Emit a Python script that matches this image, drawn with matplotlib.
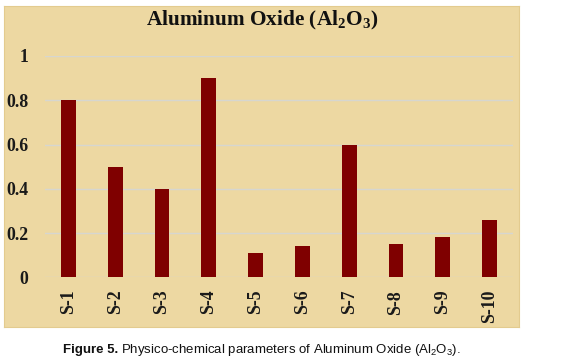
import matplotlib.pyplot as plt

# datos
muestras = ["S-1", "S-2", "S-3", "S-4", "S-5", "S-6", "S-7", "S-8", "S-9", "S-10"]
al2o3 = [0.80, 0.50, 0.40, 0.90, 0.11, 0.14, 0.60, 0.15, 0.18, 0.26]
yticks = [0, 0.2, 0.4, 0.6, 0.8, 1]
yticklabels = ["0", "0.2", "0.4", "0.6", "0.8", "1"]

fondo = "#EDD8A2"
barra = "#7F0000"

fig = plt.figure(figsize=(5.64, 3.64), dpi=100)
fig.patch.set_facecolor("white")

# panel pergamino detras del grafico
fondo_ax = fig.add_axes([4 / 564, 1 - 327 / 364, 515 / 564, 321 / 364], zorder=0)
fondo_ax.set_facecolor(fondo)
fondo_ax.set_xticks([])
fondo_ax.set_yticks([])
for s in fondo_ax.spines.values():
    s.set_color("#E3CB8F")
    s.set_linewidth(0.8)

ax = fig.add_axes([45 / 564, 1 - 277.3 / 364, 468 / 564, 221.3 / 364], zorder=1)
ax.set_facecolor("none")

x = range(len(muestras))
ax.bar(x, al2o3, width=0.32, color=barra, zorder=3)

ax.set_xlim(-0.5, len(muestras) - 0.5)
ax.set_ylim(0, 1)
ax.set_yticks(yticks)
ax.set_yticklabels(yticklabels)
ax.set_xticks(list(x))
ax.set_xticklabels(muestras, rotation=90)

ax.grid(axis="y", color="#D6D6D0", linewidth=1.0, zorder=1)
for s in ax.spines.values():
    s.set_visible(False)
ax.tick_params(length=0)
ax.tick_params(axis="y", pad=12)
ax.tick_params(axis="x", pad=9)

for lab in ax.get_yticklabels() + ax.get_xticklabels():
    lab.set_family("Liberation Serif")
    lab.set_fontweight("bold")
    lab.set_fontsize(12.8)
    lab.set_color("#1A1A1A")

fig.text(262 / 564, 1 - 20 / 364, r"Aluminum Oxide ($\mathregular{Al_2O_3}$)",
         ha="center", va="center", fontsize=15.3, fontweight="bold",
         family="Liberation Serif", color="#111111", zorder=5)

# pie de figura
t1 = fig.text(63 / 564, 1 - 350 / 364, "Figure 5.", ha="left", va="center",
              fontsize=9.5, fontweight="bold", family="Liberation Sans",
              color="#111111")
fig.canvas.draw()
bb = t1.get_window_extent()
x2 = (bb.x1 + 3) / fig.bbox.width
fig.text(x2, 1 - 350 / 364,
         r"Physico-chemical parameters of Aluminum Oxide ($\mathregular{Al_2O_3}$).",
         ha="left", va="center", fontsize=9.5, family="Liberation Sans",
         color="#111111")

plt.savefig("out.png", dpi=100)
